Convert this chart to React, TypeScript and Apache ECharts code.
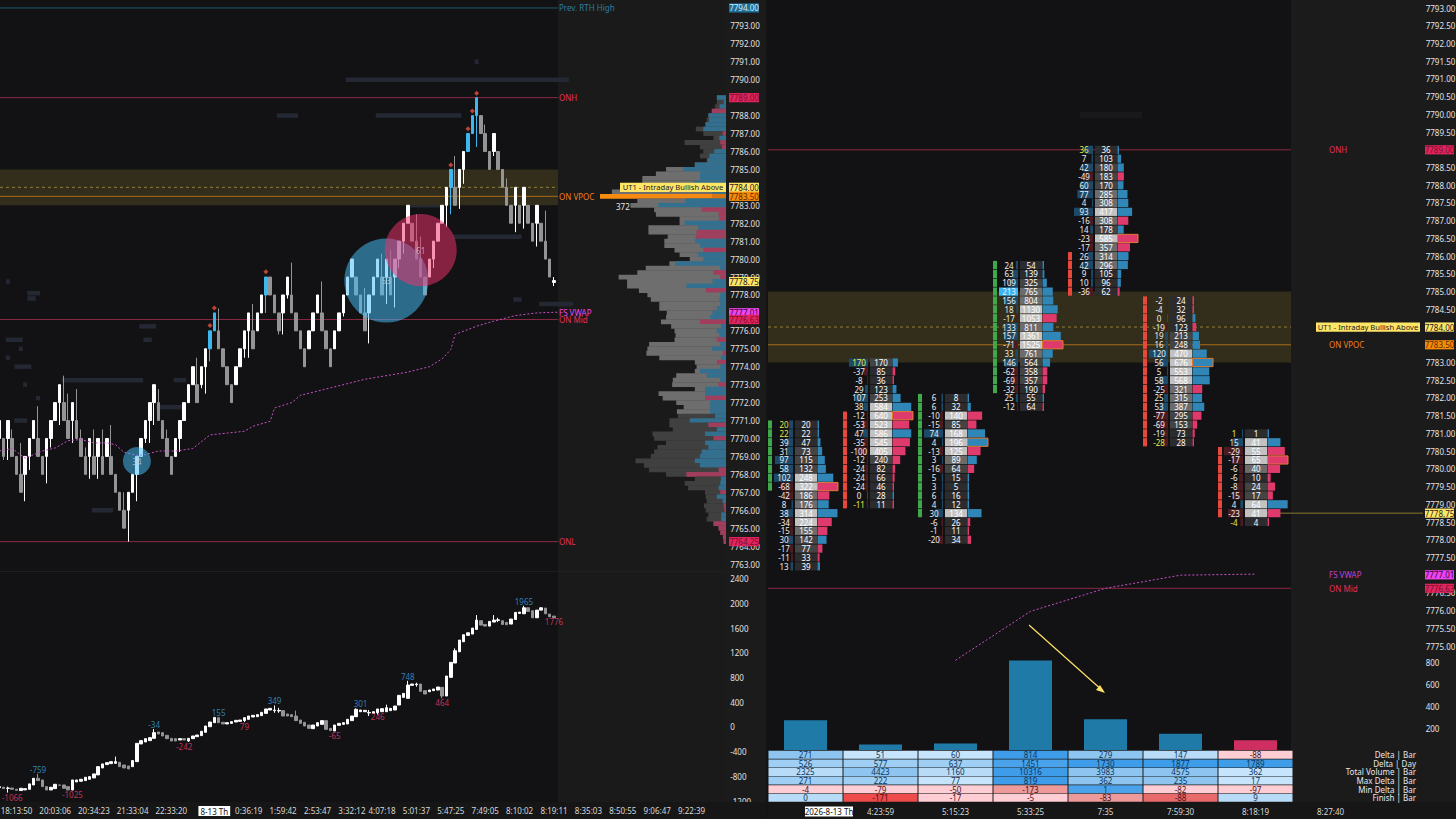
import React, { useEffect, useRef } from "react";
import * as echarts from "echarts";

const FONT = '"Noto Sans", sans-serif';
const SIZE = 8;

// ---------- price candles [open, close, low, high] (null = no wick)
const priceCandles: (number | null)[][] = [
  [7770,7771],[7770,7769,7768.8,null],[7770,7771,7768.8,null],[7770,7769,null,7770.5],[7769,7768],[7768,7767,null,7769.75],
  [7768,7769,7766.5,null],[7769,7770,7768.25,null],[7770,7771],[7770,7769,null,7771.8],[7769,7768],[7769,7770,7767.5,null],
  [7770,7771,7769.5,null],[7771,7772],[7772,7773,7770.75,null],[7772,7771,null,7773.5],[7771,7770,null,7772.5],[7771,7772,7769.75,null],
  [7771,7770,null,7772.75],[7770,7769,null,7770.5],[7769,7768,null,7769.5],[7769,7770,7767.75,null],[7769,7768,null,7770.5],[7769,7770,7767.75,null],
  [7769,7768,null,7770.5],[7769,7770],[7769,7768,null,7770.75],[7768,7767],[7767,7766],[7766,7765,null,7767],
  [7766,7767,7764.25,null],[7767,7768],[7768,7769,7766.5,null],[7769,7770],[7770,7771,7769.75,null],[7771,7772,7769.75,null],
  [7772,7773,7770.75,null],[7772,7771,null,7772.75],[7771,7770],[7770,7769,null,7770.5],[7769,7768],[7769,7770],
  [7770,7771,7769.25,null],[7771,7772],[7772,7773],[7773,7774],[7773,7772,null,7774.5],[7773,7774,7772.8,null],
  [7774,7775,7772.5,null],[7775,7776,7774.3,null],[7776,7777],[7776,7775,null,7777.25],[7775,7774],[7774,7773],
  [7773,7772],[7773,7774],[7774,7775],[7775,7776,7774.5,null],[7776,7777,7774.5,null],[7776,7775,null,7777.5],
  [7776,7777],[7777,7778],[7778,7779,7777,null],[7779,7778],[7778,7777],[7777,7776,7775.8,null],
  [7777,7778,7775.8,null],[7778,7779,7777.8,null],[7778,7777,null,7779.8],[7777,7776],[7776,7775],[7775,7774],
  [7775,7776],[7776,7777],[7777,7778],[7777,7776,null,7778.75],[7776,7775],[7775,7774],
  [7775,7776],[7776,7777],[7777,7778,7776.8,null],[7778,7779],[7779,7780],[7779,7778],[7778,7777],[7777,7776,null,7778.4],
  [7777,7778,7775.3,null],[7778,7779],[7779,7780],[7779,7778,null,7780.3],[7779,7780,7777.5,null],[7779,7778,null,7780.5],
  [7779,7780,7777.3,null],[7780,7781,7779.5,null],[7781,7782,7780.3,null],[7782,7783],[7782,7781],[7781,7780,null,7782.5],
  [7780,7779,null,7781.25],[7779,7778],[7779,7780],[7780,7781,7779.5,null],[7781,7782],[7782,7783],
  [7783,7784,7781.8,null],[7784,7785,7782.5,null],[7784,7783,null,7785.75],[7784,7785,7782.8,null],[7785,7786,7784.2,null],[7786,7787],
  [7787,7788],[7788,7789,7786.25,null],[7788,7787],[7787,7786,null,7787.5],[7786,7785],[7786,7787,7785.75,null],
  [7786,7785],[7785,7784],[7784,7783,null,7784.5],[7783,7782],[7783,7784,7781.5,null],[7783,7782],
  [7783,7784,7781.7,null],[7783,7782],[7782,7781],[7782,7783,7780.7,null],[7782,7781],[7781,7780,null,7782.7],
  [7780,7779],[7778.7,7778.8,7778.5,7779],
];
const blueCandles = [49, 50, 62, 105, 109, 110, 111];
const signalDots = [[49,7776.3],[50,7777.28],[62,7779.3],[105,7785.24],[109,7787.26],[110,7788.26],[111,7789.24]];
const bubbles = [
  { i: 32, price: 7768.74, size: 28, label: "34", side: "buy" },
  { i: 90, price: 7778.8, size: 84, label: "53", side: "buy" },
  { i: 98, price: 7780.5, size: 72, label: "61", side: "sell" },
];
const vwapLeft = [[0,7769.3],[3,7769.44],[6,7768.9],[10,7769.3],[13,7769.47],[16,7769.88],[19,7769.94],[22,7769.75],[25,7769.75],[27,7769.66],[29,7769.23],[32,7769.06],[34,7769.1],[37,7769.3],[41,7769.3],[45,7769.44],[49,7770.2],[53,7770.3],[57,7770.4],[59,7770.68],[63,7770.96],[64,7771.7],[68,7772],[70,7772.4],[75,7772.7],[85,7773.3],[95,7773.7],[100,7774],[103,7774.44],[105,7774.96],[106,7775.8],[111,7776.26],[115,7776.54],[120,7776.85],[125,7777],[130,7777.04]];
// resting-liquidity blocks: [first bar, last bar, price]
const liquidityBlocks = [[81,132,7790],[65,69,7788],[88,107,7788],[96,103,7783],[106,121,7781.25],[126,133,7777.5],[120,121,7777.75],[15,33,7773.25],[37,42,7771.75],[41,43,7773.25],[22,26,7766],[2,5,7775.5],[4,7,7774],[4,6,7771],[7,9,7778.1],[7,8,7777.8],[33,36,7776.25],[34,35,7775.5],[6,6,7773],[9,9,7772.25],[2,2,7774.5],[5,5,7775],[2,2,7778.75],[111,111,7791]];

// ---------- volume profile, top row 7789.00, one row per 0.25
const profileTotal = [27,27,32,42,52,57,62,89,67,37,122,77,67,77,57,92,177,207,247,247,307,337,372,262,282,212,207,137,137,229,229,172,182,182,152,137,107,167,237,262,317,292,292,257,232,222,197,197,175,177,192,162,152,149,152,227,232,235,197,92,87,92,147,157,159,92,199,187,147,125,145,142,167,167,157,217,212,177,202,212,222,267,242,227,177,92,122,112,62,60,57,65,60,52,57,37,22,17,9,7];
const profileDelta = [27,7,19,-42,52,50,60,67,-10,20,-17,-12,35,49,55,92,127,77,77,97,50,40,-42,120,200,-72,-22,-20,122,82,-87,-89,92,77,-67,82,67,150,17,-37,-17,40,117,-60,17,20,17,27,40,47,-77,15,27,20,-27,17,42,-10,15,-27,17,77,57,17,-22,62,62,-62,47,47,47,32,107,-52,27,62,-37,62,52,72,77,92,77,-22,-117,15,17,22,-17,27,10,-7,-5,14,14,-37,-22,-17,-9,-7];
const profileTopPrice = 7789;
const profilePocPrice = 7783.5;
const valueAreaHigh = 7785.25;
const valueAreaLow = 7771.5;

// ---------- cumulative delta candles [open, close, low, high]
const cvdCandles: (number | null)[][] = [
  [-983,-967],[-977,-999],[-994,-990,-1064,-967],[-990,-1010],[-1010,-1026],[-1031,-994],[-1020,-1000],[-1010,-923],[-940,-832],[-832,-869,null,-759],
  [-859,-967],[-967,-1021],[-1021,-977],[-999,-929],[-940,-945],[-940,-994],[-967,-1021],[-1021,-859,-1025,null],[-891,-859],[-880,-848],
  [-869,-815],[-848,-805],[-826,-761],[-777,-643],[-664,-599],[-610,-578],[-594,-562],[-589,-562,null,-480],[-572,-643],[-616,-664],
  [-632,-680],[-643,-545],[-562,-265],[-275,-221],[-243,-189],[-221,-173],[-184,-92,null,-34],[-81,-113],[-92,-146],[-135,-189],
  [-184,-227],[-189,-227],[-211,-189],[-189,-211],[-227,-184,-242,null],[-189,-146],[-157,-130],[-140,-70],[-86,16],[5,81],
  [70,155],[151,70],[76,49],[49,70],[59,86],[81,108],[92,113],[103,151,79,null],[124,178],[162,189],
  [167,200],[184,238],[221,292],[275,302],[265,275,230,349],[260,268,230,310],[265,178],[211,178],[200,167],[178,103,null,265],
  [113,59],[76,16],[32,-22],[-27,32],[16,70],[43,103],[103,-38],[-22,-59],[-65,32],[27,59],
  [43,70],[49,124],[103,178],[167,286,null,301],[248,275],[248,270],[228,236,178,276],[221,248],[232,292,200,null],[248,297],
  [248,313,null,362],[265,302],[275,340],[356,513],[480,545],[464,680,null,748],[675,697],[686,697,653,718],[697,578],[589,535],
  [572,599],[589,616],[599,648],[643,502,464,null],[502,826],[805,1048],[1037,1237,null,1275],[1220,1409],[1382,1496],[1485,1528],
  [1507,1604],[1582,1733,null,1814],[1723,1652],[1663,1636],[1636,1712],[1701,1733,null,1814],[1728,1738,1701,1771],[1723,1663],[1696,1658],[1669,1750],
  [1744,1858],[1841,1863],[1836,1933,null,1965],[1933,1874],[1885,1771],[1771,1895],[1895,1933],[1928,1836],[1831,1787],[1798,1776],
];
const cvdHighs = [[9,-759],[36,-34],[51,155],[64,349],[84,301],[95,748],[122,1965]];
const cvdLows = [[3,-1066],[17,-1025],[43,-242],[57,79],[78,-65],[88,246],[103,464],[129,1776]];

// ---------- time axis of the left chart
const leftTimeIndex = [4,13,22,31,40,50,58,66,74,82,89,97,105,113,121,129,137,145,153,161];
const leftTimes = ["18:13:50","20:03:06","20:34:23","21:33:04","22:33:20","8-13 Th","0:36:19","1:59:42","2:53:47","3:32:12","4:07:18","5:01:37","5:47:25","7:49:05","8:10:02","8:19:11","8:35:03","8:50:55","9:06:47","9:22:39"];
const LEFT_BANDS = 170;
const leftCategories = Array.from({ length: LEFT_BANDS }, (_, i) => {
  const k = leftTimeIndex.indexOf(i);
  return k >= 0 ? leftTimes[k] : "";
});

// ---------- footprint columns
const fpTops = [7781.25, 7783, 7782, 7785.75, 7789, 7784.75, 7781];
const fpDeltas = [
  [20,22,39,31,97,58,102,-68,-42,8,38,-34,-15,30,-17,-11,13],
  [170,-37,-8,29,107,38,-12,-53,47,-35,-100,-12,-24,-24,-24,0,-11],
  [6,6,-10,-15,74,4,-13,3,-16,5,3,6,4,30,-6,-1,-20],
  [24,63,109,213,156,18,-17,133,157,-71,33,146,-62,-69,-32,25,-12],
  [36,7,42,-49,60,77,4,93,-16,14,-23,-17,26,42,9,10,-36],
  [-2,-4,0,-19,19,16,120,56,5,58,-25,25,53,-77,-69,-19,-28],
  [1,15,-29,-17,-6,-6,-8,-15,4,-23,-4],
];
const fpVolumes = [
  [20,22,47,73,115,132,248,322,186,176,314,224,155,142,77,33,39],
  [170,85,36,123,253,584,640,523,586,545,405,240,82,66,46,28,11],
  [8,32,140,85,168,196,125,89,64,15,5,16,12,134,26,11,34],
  [54,139,325,765,804,1130,1053,811,1361,1525,761,564,358,357,190,55,64],
  [36,103,180,183,170,285,308,417,308,178,585,357,314,296,105,96,62],
  [24,32,96,123,213,248,470,676,553,568,321,315,387,295,153,73,28],
  [1,41,55,65,40,10,24,17,64,41,4],
];
// rows carrying the side stripe: [first row, last row, side]
const fpStripes = [[0,7,"buy"],[6,16,"sell"],[0,13,"buy"],[0,14,"buy"],[12,16,"sell"],[0,16,"sell"],[2,9,"sell"]];
const rightTimes = ["","4:23:59","5:15:23","5:33:25","7:35","7:59:30","8:18:19","8:27:40",""];
const vwapRight = [[2,7774.6],[3,7775.98],[4,7776.63],[5,7777],[6,7777.03]];

// ---------- bottom table
const tableRows = ["Delta | Bar","Delta | Day","Total Volume | Bar","Max Delta | Bar","Min Delta | Bar","Finish | Bar"];
const deltaBar = [271,51,60,814,279,147,-88];
const deltaDay = [526,577,637,1451,1730,1877,1789];
const totalVolume = [2325,4423,1160,10316,3983,4575,362];
const maxDelta = [271,222,77,819,362,235,17];
const minDelta = [-4,-79,-50,-173,1,-82,-97];
const finishBar = [0,-171,-17,-5,-83,-88,9];
const tableValues = [deltaBar, deltaDay, totalVolume, maxDelta, minDelta, finishBar];
const tablePalette = ["#c6e4fb","#b8dcf8","#9fcff5","#8ec5f0","#4aa3ea","#3f9ce8","#ffcdd4","#ef9a9a","#e86a6a","#ee4b4b"];
const tableShade = [[3,0,0,5,3,1,6],[2,2,2,4,5,5,5],[1,3,1,5,3,3,0],[2,2,0,5,3,3,0],[6,6,6,7,4,6,6],[1,9,6,6,7,8,1]];

// ---------- levels
const RED = "#e0305f", ORANGE = "#ef7f1a", YELLOW = "#ffe566", MAGENTA = "#ee44ee";
const LEVEL_RED = "#8a2a44";
const bandLow = 7783, bandHigh = 7785;
const ONH = 7789, ONL = 7764.25, VPOC = 7783.5, UT1 = 7784, ONMID = 7776.63, FSVWAP = 7777.01, LAST = 7778.75, PREVRTH = 7794;
const leftTaggedTicks = [7794, 7789, 7784, 7777];
const rightTaggedTicks = [7789, 7784, 7783.5, 7777];

function txt(text: any, x: number, y: number, fill: string, align = "center", size = SIZE) {
  return { type: "text", style: { text: String(text), x, y, fill, font: `${size}px ${FONT}`, align, verticalAlign: "middle", textAlign: align, textVerticalAlign: "middle" } };
}
function box(x: number, y: number, width: number, height: number, fill: string, stroke?: string) {
  return { type: "rect", shape: { x, y, width, height }, style: stroke ? { fill, stroke, lineWidth: 1 } : { fill } };
}
function candleData(rows: (number | null)[][], blue: number[] = []) {
  return rows.map((r, i) => {
    const [o, c, l, h] = r as number[];
    const value = [o, c, l ?? Math.min(o, c), h ?? Math.max(o, c)];
    if (!blue.includes(i)) return value;
    return { value, itemStyle: { color: "#3fb7ee", color0: "#3fb7ee", borderColor: "#3fb7ee", borderColor0: "#3fb7ee" } };
  });
}
const candleStyle = { color: "#ffffff", color0: "#949494", borderColor: "#ffffff", borderColor0: "#949494", borderWidth: 1 };

function levelSeries(axis: number, x0: number, x1: number) {
  const lines: any[] = [
    { price: ONH, stroke: LEVEL_RED },
    { price: VPOC, stroke: "#a86c18" },
    { price: UT1, stroke: "#8f7f38", dash: [3, 3] },
    { price: ONMID, stroke: LEVEL_RED },
  ];
  if (axis === 0) lines.push({ price: ONL, stroke: LEVEL_RED }, { price: PREVRTH, stroke: "#1c5a70" });
  return {
    type: "custom", xAxisIndex: axis, yAxisIndex: axis, z: 1, silent: true,
    data: [[0, bandLow]],
    encode: { x: 0, y: 1 },
    renderItem: (_p: any, api: any) => {
      const yLow = api.coord([0, bandLow])[1], yHigh = api.coord([0, bandHigh])[1];
      return {
        type: "group",
        children: [
          box(x0, yHigh, x1 - x0, yLow - yHigh, "#332d1b"),
          ...lines.map((l) => {
            const y = api.coord([0, l.price])[1];
            return { type: "line", shape: { x1: x0, y1: y, x2: x1, y2: y }, style: { stroke: l.stroke, lineWidth: 1, lineDash: l.dash } };
          }),
        ],
      };
    },
  };
}
function tagSeries(axis: number, tags: any[]) {
  return {
    type: "custom", xAxisIndex: axis, yAxisIndex: axis, z: 12, silent: true,
    data: tags.map((t) => [0, t.price]),
    encode: { x: 0, y: 1 },
    renderItem: (p: any, api: any) => {
      const t = tags[p.dataIndex];
      const y = api.coord([0, t.price])[1];
      if (!t.bg) return txt(t.text, t.x0, y, t.fg, "left");
      return {
        type: "group",
        children: [box(t.x0, y - 4.6, t.x1 - t.x0, 9.2, t.bg), txt(t.text, (t.x0 + t.x1) / 2, y, t.fg, "center", t.size ?? SIZE)],
      };
    },
  };
}
const leftTags = [
  { price: PREVRTH, text: "Prev. RTH High", x0: 559, fg: "#2a7fa5" },
  { price: ONH, text: "ONH", x0: 559, fg: RED },
  { price: VPOC, text: "ON VPOC", x0: 559, fg: ORANGE },
  { price: FSVWAP, text: "FS VWAP", x0: 559, fg: MAGENTA },
  { price: ONMID, text: "ON Mid", x0: 559, fg: RED },
  { price: ONL, text: "ONL", x0: 559, fg: RED },
  { price: 7782.95, text: "372", x0: 616, fg: "#e8e8e8" },
  { price: UT1, text: "UT1 - Intraday Bullish Above", x0: 620, x1: 726, bg: YELLOW, fg: "#222", size: 7.6 },
  { price: PREVRTH, text: "7794.00", x0: 729, x1: 759, bg: "#1f6f96", fg: "#d5ecf7" },
  { price: ONH, text: "7789.00", x0: 729, x1: 759, bg: "#e0245e", fg: "#7a1030" },
  { price: UT1, text: "7784.00", x0: 729, x1: 759, bg: YELLOW, fg: "#222" },
  { price: VPOC, text: "7783.50", x0: 729, x1: 759, bg: "#f58a0b", fg: "#5a2f00" },
  { price: LAST, text: "7778.75", x0: 729, x1: 759, bg: YELLOW, fg: "#222" },
  { price: FSVWAP, text: "7777.01", x0: 729, x1: 759, bg: MAGENTA, fg: "#400040" },
  { price: ONMID, text: "7776.63", x0: 729, x1: 759, bg: "#e0245e", fg: "#7a1030" },
  { price: ONL, text: "7764.25", x0: 729, x1: 759, bg: "#e0245e", fg: "#7a1030" },
];
const rightTags = [
  { price: ONH, text: "ONH", x0: 1329, fg: RED },
  { price: VPOC, text: "ON VPOC", x0: 1329, fg: ORANGE },
  { price: FSVWAP, text: "FS VWAP", x0: 1329, fg: "#c040d8" },
  { price: ONMID, text: "ON Mid", x0: 1329, fg: RED },
  { price: UT1, text: "UT1 - Intraday Bullish Above", x0: 1316, x1: 1420, bg: YELLOW, fg: "#222", size: 7.6 },
  { price: ONH, text: "7789.00", x0: 1425, x1: 1454, bg: "#e0245e", fg: "#7a1030" },
  { price: UT1, text: "7784.00", x0: 1425, x1: 1454, bg: YELLOW, fg: "#222" },
  { price: VPOC, text: "7783.50", x0: 1425, x1: 1454, bg: "#f58a0b", fg: "#5a2f00" },
  { price: LAST, text: "7778.75", x0: 1425, x1: 1454, bg: YELLOW, fg: "#222" },
  { price: FSVWAP, text: "7777.01", x0: 1425, x1: 1454, bg: MAGENTA, fg: "#400040" },
  { price: ONMID, text: "7776.63", x0: 1425, x1: 1454, bg: "#e0245e", fg: "#7a1030" },
];

function footprintRows() {
  const rows: any[] = [];
  fpDeltas.forEach((deltas, col) => {
    const vols = fpVolumes[col];
    const maxVol = Math.max(...vols);
    const maxAbs = Math.max(...deltas.map(Math.abs));
    const [s0, s1, side] = fpStripes[col] as any[];
    deltas.forEach((delta, r) => {
      rows.push({ col, price: fpTops[col] - r * 0.25, delta, vol: vols[r], maxVol, maxAbs, stripe: r >= s0 && r <= s1 ? side : null });
    });
  });
  return rows;
}
const fpRows = footprintRows();

function volCellFill(r: number) {
  if (r > 0.62) return "#c2c2c2";
  if (r > 0.45) return "#6c6c6c";
  if (r > 0.2) return "#444444";
  return "#2c2c2e";
}

function buildOption(): any {
  const axisText = { color: "#e2e2e2", fontSize: SIZE, fontFamily: FONT };
  const off = { axisLine: { show: false }, axisTick: { show: false }, splitLine: { show: false } };
  const g = { outerBoundsMode: "none" };
  return {
    animation: false,
    backgroundColor: "#1b1b1b",
    textStyle: { fontFamily: FONT },
    grid: [
      { ...g, left: -2.85, top: -1, width: 731, height: 574 },
      { ...g, left: 558, top: -1, width: 168, height: 574 },
      { ...g, left: -2.85, top: 554.3, width: 731, height: 246.7 },
      { ...g, left: 768, top: -9.7, width: 675, height: 673.5 },
      { ...g, left: 768, top: 640, width: 675, height: 110 },
      { ...g, left: 768, top: 750.5, width: 675, height: 51.5 },
    ],
    xAxis: [
      { type: "category", gridIndex: 0, data: leftCategories, boundaryGap: true, axisLabel: { show: false }, ...off },
      { type: "value", gridIndex: 1, inverse: true, min: 0, max: 496, axisLabel: { show: false }, ...off },
      {
        type: "category", gridIndex: 2, data: leftCategories, boundaryGap: true, ...off,
        axisLabel: {
          ...axisText, color: "#d8d8d8", interval: 0, margin: 5,
          formatter: (v: string) => (v === "8-13 Th" ? `{d|${v}}` : v),
          rich: { d: { backgroundColor: "#ffffff", color: "#111111", fontSize: SIZE, fontFamily: FONT, padding: [1, 2, 1, 2] } },
        },
      },
      { type: "category", gridIndex: 3, data: rightTimes, axisLabel: { show: false }, ...off },
      { type: "category", gridIndex: 4, data: rightTimes, axisLabel: { show: false }, ...off },
      { type: "category", gridIndex: 5, data: rightTimes, ...off, axisLabel: { ...axisText, color: "#d8d8d8", interval: 0, margin: 5 } },
    ],
    yAxis: [
      {
        type: "value", gridIndex: 0, position: "right", min: 7762.5, max: 7794.5, interval: 0.5, ...off,
        axisLabel: { ...axisText, margin: 2, formatter: (v: number) => (Number.isInteger(v) && !leftTaggedTicks.includes(v) ? v.toFixed(2) : "") },
      },
      { type: "value", gridIndex: 1, position: "right", min: 7762.5, max: 7794.5, axisLabel: { show: false }, ...off },
      {
        type: "value", gridIndex: 2, position: "right", min: -1200, max: 2800, interval: 400, ...off,
        axisLabel: { ...axisText, margin: 2, formatter: (v: number) => (v === 2800 ? "" : String(v)) },
      },
      {
        type: "value", gridIndex: 3, position: "right", min: 7774.5, max: 7793.5, interval: 0.5, ...off,
        axisLabel: { ...axisText, margin: -17.3, formatter: (v: number) => (v > 7793 || v < 7775 || rightTaggedTicks.includes(v) ? "" : v.toFixed(2)) },
      },
      {
        type: "value", gridIndex: 4, position: "right", min: 0, max: 1000, interval: 200, ...off,
        axisLabel: { ...axisText, margin: -17.3, formatter: (v: number) => (v === 0 || v === 1000 ? "" : String(v)) },
      },
      {
        type: "category", gridIndex: 5, position: "right", inverse: true, data: tableRows, ...off,
        axisLabel: { ...axisText, color: "#e8e8e8", interval: 0, align: "right", margin: -27 },
      },
    ],
    graphic: {
      elements: [
        { type: "rect", z: -10, silent: true, shape: { x: 0, y: 0, width: 558, height: 802 }, style: { fill: "#121214" } },
        { type: "rect", z: -10, silent: true, shape: { x: 558, y: 0, width: 168, height: 802 }, style: { fill: "#1a1a1a" } },
        { type: "rect", z: -10, silent: true, shape: { x: 0, y: 571, width: 726, height: 1 }, style: { fill: "#1f1f1f" } },
        { type: "rect", z: -10, silent: true, shape: { x: 0, y: 802, width: 766, height: 17 }, style: { fill: "#161616" } },
        { type: "rect", z: -10, silent: true, shape: { x: 768, y: 0, width: 523, height: 750 }, style: { fill: "#121214" } },
        { type: "rect", z: -10, silent: true, shape: { x: 768, y: 802, width: 688, height: 17 }, style: { fill: "#161616" } },
        { type: "rect", z: -10, silent: true, shape: { x: 766, y: 0, width: 2, height: 819 }, style: { fill: "#141414" } },
        { type: "rect", z: -9, silent: true, shape: { x: 1080, y: 112, width: 62, height: 6 }, style: { fill: "#19191c" } },
        { type: "rect", z: 100, silent: true, shape: { x: 726, y: 802, width: 40, height: 17 }, style: { fill: "#161616" } },
        { type: "line", z: 50, silent: true, shape: { x1: 1029, y1: 625, x2: 1103, y2: 691 }, style: { stroke: "#ffe066", lineWidth: 1.2 } },
        { type: "polygon", z: 50, silent: true, shape: { points: [[1105, 693], [1096, 690], [1100, 685]] }, style: { fill: "#ffe066" } },
        { type: "rect", z: 50, silent: true, shape: { x: 805, y: 806.5, width: 48, height: 10 }, style: { fill: "#ffffff" } },
        { type: "text", z: 51, silent: true, x: 829, y: 811.5, style: { text: "2026-8-13 Th", fill: "#111111", font: `${SIZE}px ${FONT}`, align: "center", verticalAlign: "middle", textAlign: "center", textVerticalAlign: "middle" } },
      ],
    },
    series: [
      // left price panel
      {
        type: "custom", xAxisIndex: 0, yAxisIndex: 0, z: 1, silent: true, name: "liquidity",
        data: liquidityBlocks.map((b) => [b[0], b[2], b[1]]),
        encode: { x: 0, y: 1 },
        renderItem: (p: any, api: any) => {
          const b = liquidityBlocks[p.dataIndex];
          const a = api.coord([b[0], b[2]]), e = api.coord([b[1], b[2]]);
          return box(a[0] - 2, a[1] - 2.25, e[0] - a[0] + 4, 4.5, "#232833");
        },
      },
      levelSeries(0, 0, 558),
      {
        type: "candlestick", xAxisIndex: 0, yAxisIndex: 0, z: 3, barWidth: 3, silent: true,
        itemStyle: candleStyle, data: candleData(priceCandles, blueCandles),
      },
      {
        type: "line", xAxisIndex: 0, yAxisIndex: 0, z: 4, showSymbol: false, silent: true,
        lineStyle: { color: "#c850c8", width: 1, type: [2, 2] }, data: vwapLeft,
      },
      {
        type: "scatter", xAxisIndex: 0, yAxisIndex: 0, z: 5, silent: true,
        data: bubbles.map((b) => ({
          value: [b.i, b.price],
          symbolSize: b.size,
          itemStyle: { color: b.side === "buy" ? "rgba(70,190,250,0.65)" : "rgba(240,50,110,0.65)" },
          label: { show: true, position: "inside", formatter: b.label, color: "#c8c8c8", fontSize: SIZE, fontFamily: FONT },
        })),
      },
      {
        type: "scatter", xAxisIndex: 0, yAxisIndex: 0, z: 6, silent: true, symbol: "diamond", symbolSize: 5,
        itemStyle: { color: "#e8503f" }, data: signalDots,
      },
      // profile
      {
        type: "custom", xAxisIndex: 1, yAxisIndex: 1, z: 3, silent: true, name: "profile",
        data: profileTotal.map((t, i) => [t, profileTopPrice - i * 0.25, profileDelta[i]]),
        encode: { x: 0, y: 1 },
        renderItem: (p: any, api: any) => {
          const i = p.dataIndex;
          const price = profileTopPrice - i * 0.25;
          const t = profileTotal[i], d = profileDelta[i];
          const r = api.coord([0, price]), l = api.coord([t, price]), m = api.coord([Math.abs(d), price]);
          const poc = price === profilePocPrice;
          const inVa = price <= valueAreaHigh && price >= valueAreaLow;
          const totalFill = poc ? "#f78b12" : inVa ? "#6e6e6e" : "#404040";
          const deltaFill = poc ? "#d9750f" : d < 0 ? "#a13e5d" : "#33708f";
          const h = 4.8;
          return {
            type: "group",
            children: [box(l[0], r[1] - h / 2, r[0] - l[0], h, totalFill), box(m[0], r[1] - h / 2, r[0] - m[0], h, deltaFill)],
          };
        },
      },
      tagSeries(0, leftTags),
      // cumulative delta
      {
        type: "candlestick", xAxisIndex: 2, yAxisIndex: 2, z: 3, barWidth: 3, silent: true,
        itemStyle: candleStyle, data: candleData(cvdCandles),
      },
      {
        type: "scatter", xAxisIndex: 2, yAxisIndex: 2, z: 6, silent: true, symbolSize: 1,
        itemStyle: { color: "transparent" }, data: cvdHighs,
        label: { show: true, position: "top", distance: 0, color: "#3aa0d8", fontSize: SIZE, fontFamily: FONT, formatter: (p: any) => String(p.value[1]) },
      },
      {
        type: "scatter", xAxisIndex: 2, yAxisIndex: 2, z: 6, silent: true, symbolSize: 1,
        itemStyle: { color: "transparent" }, data: cvdLows,
        label: { show: true, position: "bottom", distance: 0, color: "#e83e6c", fontSize: SIZE, fontFamily: FONT, formatter: (p: any) => String(p.value[1]) },
      },
      // right footprint
      levelSeries(3, 768, 1291),
      {
        type: "custom", xAxisIndex: 3, yAxisIndex: 3, z: 3, silent: true,
        data: [[0, LAST]],
        encode: { x: 0, y: 1 },
        renderItem: (_p: any, api: any) => {
          const y = api.coord([0, LAST])[1];
          return { type: "line", shape: { x1: 1264, y1: y, x2: 1423, y2: y }, style: { stroke: "#8a7a30", lineWidth: 1 } };
        },
      },
      {
        type: "custom", xAxisIndex: 3, yAxisIndex: 3, z: 4, silent: true, name: "footprint",
        data: fpRows.map((r) => [r.col, r.price, r.delta, r.vol]),
        encode: { x: 0, y: 1 },
        renderItem: (p: any, api: any) => {
          const r = fpRows[p.dataIndex];
          const [cx, cy] = api.coord([r.col, r.price]);
          const left = cx - 37.5, h = 8.2, top = cy - h / 2;
          const children: any[] = [];
          if (r.stripe) children.push(box(left, top, 4, h, r.stripe === "buy" ? "#3fa84a" : "#e8473c"));
          const neg = r.delta < 0;
          const bright = r.delta >= 200;
          const dw = Math.max(1, (19 * Math.abs(r.delta)) / r.maxAbs);
          children.push(box(left + 25 - dw, top, dw, h, bright ? "#3ab5f5" : neg ? "#4a1c22" : "#1c4a68"));
          const same = Math.abs(r.delta) === r.vol;
          children.push(txt(r.delta, left + 16, cy, same ? "#e8e84a" : "#eeeeee"));
          const ratio = r.vol / r.maxVol;
          children.push(box(left + 27, top, 22, h, volCellFill(ratio)));
          children.push(txt(r.vol, left + 38, cy, "#ffffff"));
          const bw = Math.max(1.5, 20.5 * ratio);
          const isMax = r.vol === r.maxVol;
          children.push(box(left + 49.5, top, bw, h, neg ? "#df3a6c" : "#2f86b7", isMax ? "#e07a30" : undefined));
          return { type: "group", children };
        },
      },
      {
        type: "line", xAxisIndex: 3, yAxisIndex: 3, z: 5, showSymbol: false, silent: true,
        lineStyle: { color: "#c850c8", width: 1, type: [2, 2] }, data: vwapRight,
      },
      tagSeries(3, rightTags),
      // delta bars
      {
        type: "bar", xAxisIndex: 4, yAxisIndex: 4, barWidth: 43, silent: true,
        data: deltaBar.map((v) => ({ value: Math.abs(v), itemStyle: { color: v < 0 ? "#cf2f60" : "#1f7aa8" } })),
      },
      // table
      {
        type: "custom", xAxisIndex: 5, yAxisIndex: 5, z: 4, silent: true, name: "table",
        data: tableValues.flatMap((row, r) => row.map((v, c) => [c, r, v])),
        encode: { x: 0, y: 1 },
        renderItem: (p: any, api: any) => {
          const c = p.dataIndex % 7, r = Math.floor(p.dataIndex / 7);
          const [cx, cy] = api.coord([c, r]);
          const shade = tableShade[r][c];
          return {
            type: "group",
            children: [
              box(cx - 37, cy - 4, 74, 8, tablePalette[shade]),
              txt(tableValues[r][c], cx, cy, shade <= 5 ? "#0a3560" : "#4a0f18"),
            ],
          };
        },
      },
    ],
  };
}

export default function App() {
  const ref = useRef<HTMLDivElement>(null);
  useEffect(() => {
    document.body.style.margin = "0";
    document.body.style.background = "#1b1b1b";
    const chart = echarts.init(ref.current!, undefined, { renderer: "svg" });
    chart.setOption(buildOption());
    return () => chart.dispose();
  }, []);
  return <div ref={ref} style={{ position: "fixed", left: 0, top: 0, width: 1456, height: 819 }} />;
}
